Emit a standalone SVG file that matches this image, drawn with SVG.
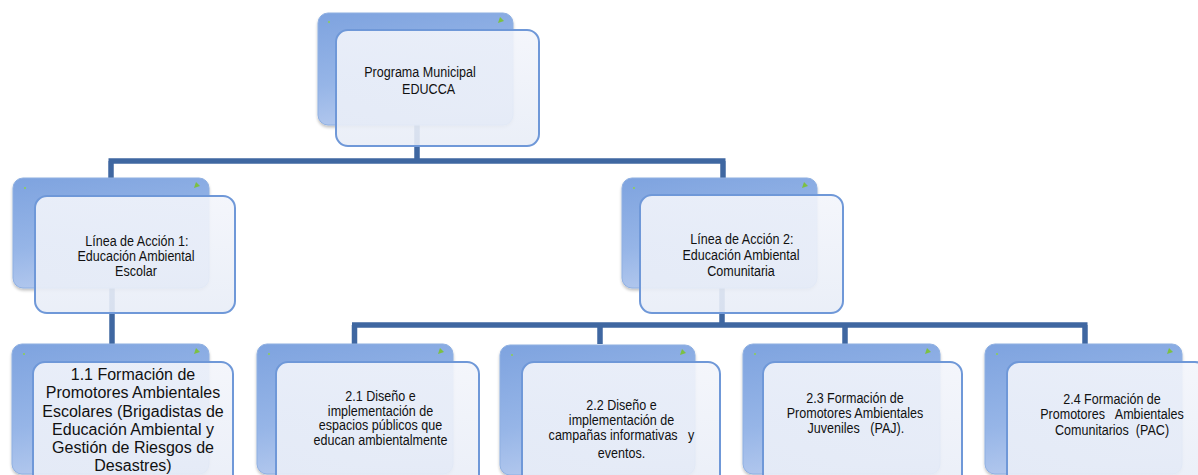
<svg xmlns="http://www.w3.org/2000/svg" width="1198" height="475" viewBox="0 0 1198 475">
<defs>
<linearGradient id="gBack" x1="0" y1="0" x2="0.3" y2="1">
<stop offset="0" stop-color="#7ea3df"/>
<stop offset="0.6" stop-color="#96b5e7"/>
<stop offset="1" stop-color="#b4c9ee"/>
</linearGradient>
<linearGradient id="gFront" x1="0" y1="0" x2="0" y2="1">
<stop offset="0" stop-color="#f3f5fb"/>
<stop offset="1" stop-color="#e8edf7"/>
</linearGradient>
<filter id="sh" x="-10%" y="-10%" width="120%" height="130%">
<feGaussianBlur in="SourceAlpha" stdDeviation="1.5"/>
<feOffset dx="0" dy="1.5" result="b"/>
<feComponentTransfer><feFuncA type="linear" slope="0.25"/></feComponentTransfer>
<feMerge><feMergeNode/><feMergeNode in="SourceGraphic"/></feMerge>
</filter>
</defs>
<style>
.back{fill:url(#gBack);stroke:#8fb0e2;stroke-width:1;}
.front{fill:url(#gFront);fill-opacity:0.9;stroke:#6f98d8;stroke-width:2;}
.mark{fill:#7cc043;}
.dot{fill:#8ccf50;}
.conn{fill:none;stroke:#3f67a1;stroke-width:5.5;}
text{font-family:"Liberation Sans",Arial,sans-serif;fill:#111;text-anchor:middle;}
.s{font-size:14.6px;}
.b{font-size:16px;}
</style>
<rect width="1198" height="475" fill="#ffffff"/>

<g id="connectors">
<path class="conn" d="M417,125 V161 M108.5,161 H725.5 M111,161 V178 M723,161 V178"/>
<path class="conn" d="M112,288 V344"/>
<path class="conn" d="M722,288 V325 M352,325 H1087.5 M354.5,325 V344 M600,325 V344 M845,325 V344 M1085,325 V344"/>
</g>

<g id="node-top">
<rect class="back" x="318" y="13" width="195" height="112" rx="10" filter="url(#sh)"/>
<circle class="dot" cx="329" cy="22" r="1"/>
<path class="mark" d="M500,17 l4,4 l-6,2 z"/>
<rect class="front" x="336" y="30" width="203" height="116" rx="12"/>
<g transform="translate(420,0) scale(0.86,1)">
<text class="s" x="0" y="77">Programa Municipal</text>
<text class="s" x="10" y="94">EDUCCA</text>
</g>
</g>

<g id="node-l1">
<rect class="back" x="13" y="178" width="196" height="110" rx="10" filter="url(#sh)"/>
<circle class="dot" cx="25" cy="188" r="1"/>
<path class="mark" d="M196,182 l4,4 l-6,2 z"/>
<rect class="front" x="35" y="196" width="200" height="117" rx="12"/>
<g transform="translate(136,0) scale(0.86,1)">
<text class="s" x="1" y="246">Línea de Acción 1:</text>
<text class="s" x="0" y="261">Educación Ambiental</text>
<text class="s" x="0" y="276">Escolar</text>
</g>
</g>

<g id="node-l2">
<rect class="back" x="622" y="178" width="195" height="110" rx="10" filter="url(#sh)"/>
<circle class="dot" cx="634" cy="188" r="1"/>
<path class="mark" d="M804,182 l4,4 l-6,2 z"/>
<rect class="front" x="640" y="195" width="203" height="118" rx="12"/>
<g transform="translate(741,0) scale(0.86,1)">
<text class="s" x="1" y="244">Línea de Acción 2:</text>
<text class="s" x="0" y="260">Educación Ambiental</text>
<text class="s" x="0" y="276">Comunitaria</text>
</g>
</g>

<g id="node-1-1">
<rect class="back" x="12" y="344" width="197" height="130" rx="10" filter="url(#sh)"/>
<circle class="dot" cx="24" cy="354" r="1"/>
<path class="mark" d="M196,348 l4,4 l-6,2 z"/>
<rect class="front" x="33" y="362" width="200" height="130" rx="12"/>
<text class="b" x="133" y="380">1.1 Formación de</text>
<text class="b" x="133" y="398">Promotores Ambientales</text>
<text class="b" x="133" y="416.5">Escolares (Brigadistas de</text>
<text class="b" x="133" y="434.5">Educación Ambiental y</text>
<text class="b" x="133" y="452.5">Gestión de Riesgos de</text>
<text class="b" x="133" y="471">Desastres)</text>
</g>

<g id="node-2-1">
<rect class="back" x="257" y="344" width="196" height="130" rx="10" filter="url(#sh)"/>
<circle class="dot" cx="269" cy="354" r="1"/>
<path class="mark" d="M440,348 l4,4 l-6,2 z"/>
<rect class="front" x="276" y="362" width="203" height="130" rx="12"/>
<g transform="translate(380.5,0) scale(0.86,1)">
<text class="s" x="0" y="401">2.1 Diseño e</text>
<text class="s" x="0" y="416">implementación de</text>
<text class="s" x="0" y="430.5">espacios públicos que</text>
<text class="s" x="0" y="445">educan ambientalmente</text>
</g>
</g>

<g id="node-2-2">
<rect class="back" x="500" y="345" width="195" height="130" rx="10" filter="url(#sh)"/>
<circle class="dot" cx="512" cy="355" r="1"/>
<path class="mark" d="M682,349 l4,4 l-6,2 z"/>
<rect class="front" x="522" y="362" width="198" height="130" rx="12"/>
<g transform="translate(621.5,0) scale(0.86,1)">
<text class="s" x="0" y="410">2.2 Diseño e</text>
<text class="s" x="0" y="425">implementación de</text>
<text class="s" x="0" y="440" xml:space="preserve">campañas informativas   y</text>
<text class="s" x="0" y="458">eventos.</text>
</g>
</g>

<g id="node-2-3">
<rect class="back" x="743" y="344" width="197" height="130" rx="10" filter="url(#sh)"/>
<circle class="dot" cx="755" cy="354" r="1"/>
<path class="mark" d="M927,348 l4,4 l-6,2 z"/>
<rect class="front" x="763" y="362" width="199" height="130" rx="12"/>
<g transform="translate(855,0) scale(0.86,1)">
<text class="s" x="0" y="403">2.3 Formación de</text>
<text class="s" x="0" y="418">Promotores Ambientales</text>
<text class="s" x="1" y="433" xml:space="preserve">Juveniles   (PAJ).</text>
</g>
</g>

<g id="node-2-4">
<rect class="back" x="985" y="344" width="197" height="130" rx="10" filter="url(#sh)"/>
<circle class="dot" cx="997" cy="354" r="1"/>
<path class="mark" d="M1169,348 l4,4 l-6,2 z"/>
<rect class="front" x="1007" y="362" width="200" height="130" rx="12"/>
<g transform="translate(1112,0) scale(0.86,1)">
<text class="s" x="0" y="404">2.4 Formación de</text>
<text class="s" x="0" y="419" xml:space="preserve">Promotores   Ambientales</text>
<text class="s" x="0" y="435" xml:space="preserve">Comunitarios  (PAC)</text>
</g>
</g>
</svg>
